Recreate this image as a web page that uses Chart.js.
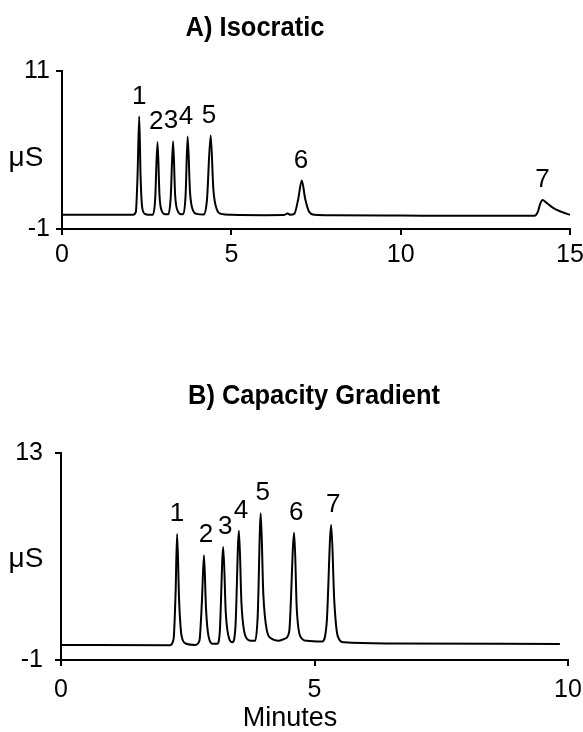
<!DOCTYPE html>
<html lang="en">
<head>
<meta charset="UTF-8">
<title>Isocratic vs Capacity Gradient</title>
<script src="https://cdn.jsdelivr.net/npm/chart.js"></script>
<style>
  body { margin: 0; background: #fff; }
  #wrap { position: relative; width: 583px; height: 732px; overflow: hidden; font-family: "Liberation Sans", Arial, sans-serif; color: #000; }
  canvas { position: absolute; left: 0; }
  .txt { position: absolute; white-space: nowrap; line-height: 1; }
  .title { font-weight: bold; font-size: 28px; transform: translate(-50%, -50%) scaleX(0.91); }
  .lbl { transform: translate(-50%, -50%); }
</style>
</head>
<body>
<div id="wrap">
  <canvas id="chartA" width="583" height="300" style="top:0"></canvas>
  <canvas id="chartB" width="583" height="352" style="top:380px"></canvas>
  <div class="txt title" style="left:255px; top:27px">A) Isocratic</div>
  <div class="txt title" style="left:314px; top:395px">B) Capacity Gradient</div>
  <div class="txt lbl" style="left:26px; top:157px; font-size:28px">μS</div>
  <div class="txt lbl" style="left:26px; top:558px; font-size:28px">μS</div>
  <div class="txt lbl" style="left:290px; top:717px; font-size:27px">Minutes</div>
</div>
<script>
// A) Isocratic trace (minutes, µS)
const isoTime = [0, 2.10, 2.18, 2.23, 2.28, 2.32, 2.37, 2.45, 2.55,
  2.68, 2.75, 2.82, 2.88, 2.95, 3.05,
  3.14, 3.21, 3.28, 3.34, 3.42, 3.52,
  3.58, 3.65, 3.71, 3.78, 3.87, 3.98,
  4.18, 4.28, 4.39, 4.47, 4.57, 4.70, 5.0, 6.0,
  6.55, 6.66, 6.74, 6.86, 6.97, 7.08, 7.18, 7.30, 7.45, 8.0, 10, 12,
  13.95, 14.05, 14.12, 14.19, 14.30, 14.50, 14.75, 15.0];
const isoSignal = [0.08, 0.08, 0.3, 3.0, 7.55, 3.0, 0.6, 0.15, 0.08,
  0.08, 1.2, 5.6, 1.5, 0.35, 0.12,
  0.12, 1.4, 5.67, 1.6, 0.35, 0.12,
  0.15, 1.6, 6.03, 1.8, 0.4, 0.15,
  0.1, 1.2, 6.1, 2.0, 0.5, 0.15, 0.08, 0.05,
  0.06, 0.18, 0.08, 0.15, 1.2, 2.68, 1.3, 0.3, 0.08, 0.04, 0.02, 0.0,
  0.0, 0.3, 0.9, 1.2, 1.0, 0.6, 0.3, 0.08];
const isoPeakNames = ['1', '2', '3', '4', '5', '6', '7'];
const isoPeakTime = [2.28, 2.78, 3.22, 3.66, 4.34, 7.06, 14.19];
const isoPeakHeight = [7.55, 5.6, 5.67, 6.03, 6.1, 2.68, 1.2];
const isoTicksX = [0, 5, 10, 15];
const isoTicksY = [-1, 11];

// B) Capacity gradient trace (minutes, µS)
const gradTime = [0, 2.15, 2.22, 2.26, 2.29, 2.33, 2.38, 2.47, 2.65,
  2.73, 2.78, 2.82, 2.86, 2.91, 3.0,
  3.08, 3.13, 3.20, 3.25, 3.32, 3.38,
  3.44, 3.51, 3.56, 3.64, 3.75,
  3.83, 3.88, 3.94, 3.99, 4.06, 4.15, 4.30,
  4.42, 4.50, 4.60, 4.65, 4.72, 4.85,
  5.15, 5.24, 5.33, 5.39, 5.46, 5.58, 6.5, 9.84];
const gradSignal = [0.02, 0.0, 0.4, 3.5, 7.52, 3.0, 0.6, 0.1, 0.02,
  0.3, 3.0, 6.09, 2.5, 0.6, 0.1,
  0.1, 0.8, 6.65, 2.2, 0.4, 0.2,
  1.2, 7.74, 2.8, 0.6, 0.3,
  0.3, 2.0, 8.92, 3.5, 1.0, 0.45, 0.3,
  0.45, 0.9, 7.61, 2.5, 0.6, 0.3,
  0.25, 1.5, 8.13, 3.0, 0.6, 0.2, 0.12, 0.09];
const gradPeakNames = ['1', '2', '3', '4', '5', '6', '7'];
const gradPeakTime = [2.29, 2.86, 3.24, 3.55, 3.98, 4.64, 5.37];
const gradPeakHeight = [7.52, 6.09, 6.65, 7.74, 8.92, 7.61, 8.13];
const gradTicksX = [0, 5, 10];
const gradTicksY = [-1, 13];

const FONT = '"Liberation Sans", Arial, sans-serif';

const peakLabels = {
  id: 'peakLabels',
  afterDatasetsDraw(chart, args, opts) {
    const ctx = chart.ctx;
    const xs = chart.scales.x, ys = chart.scales.y;
    ctx.save();
    ctx.fillStyle = '#000';
    ctx.font = '26px ' + FONT;
    ctx.textAlign = 'center';
    ctx.textBaseline = 'middle';
    opts.names.forEach((n, i) => {
      ctx.fillText(n, xs.getPixelForValue(opts.times[i]), ys.getPixelForValue(opts.heights[i]) - 20);
    });
    ctx.restore();
  }
};

function makeChart(id, cfg) {
  const points = cfg.time.map((t, i) => ({ x: t, y: cfg.signal[i] }));
  return new Chart(document.getElementById(id), {
    type: 'line',
    data: { datasets: [{ data: points, borderColor: '#000', borderWidth: 2, pointRadius: 0, fill: false, cubicInterpolationMode: 'monotone' }] },
    plugins: [peakLabels],
    options: {
      responsive: false,
      animation: false,
      layout: { padding: { top: cfg.top, right: cfg.right, left: 0, bottom: 0 } },
      plugins: {
        legend: { display: false },
        tooltip: { enabled: false },
        peakLabels: { names: cfg.names, times: cfg.peakTime, heights: cfg.peakHeight }
      },
      scales: {
        x: {
          type: 'linear', min: cfg.ticksX[0], max: cfg.ticksX[cfg.ticksX.length - 1],
          afterBuildTicks: s => { s.ticks = cfg.ticksX.map(v => ({ value: v })); },
          afterFit: s => { s.height = cfg.height - cfg.bottom; s.paddingLeft = 0; s.paddingRight = 0; },
          border: { display: true, color: '#000', width: 2 },
          grid: { drawOnChartArea: false, drawTicks: true, tickLength: 6, color: '#000', lineWidth: 2 },
          ticks: { color: '#000', font: { family: FONT, size: 25 }, padding: cfg.padX, maxRotation: 0 }
        },
        y: {
          type: 'linear', min: cfg.ticksY[0], max: cfg.ticksY[1],
          afterBuildTicks: s => { s.ticks = cfg.ticksY.map(v => ({ value: v })); },
          afterFit: s => { s.width = cfg.left; s.paddingTop = 0; s.paddingBottom = 0; },
          border: { display: true, color: '#000', width: 2 },
          grid: { drawOnChartArea: false, drawTicks: true, tickLength: 6, color: '#000', lineWidth: 2 },
          ticks: { color: '#000', font: { family: FONT, size: 25 }, padding: cfg.padY }
        }
      }
    }
  });
}

makeChart('chartA', {
  time: isoTime, signal: isoSignal, names: isoPeakNames, peakTime: isoPeakTime, peakHeight: isoPeakHeight,
  ticksX: isoTicksX, ticksY: isoTicksY,
  height: 300, top: 71, bottom: 229, left: 62, right: 13, padX: 5, padY: 6
});

makeChart('chartB', {
  time: gradTime, signal: gradSignal, names: gradPeakNames, peakTime: gradPeakTime, peakHeight: gradPeakHeight,
  ticksX: gradTicksX, ticksY: gradTicksY,
  height: 352, top: 73, bottom: 280, left: 61, right: 15, padX: 9, padY: 12
});
</script>
</body>
</html>
